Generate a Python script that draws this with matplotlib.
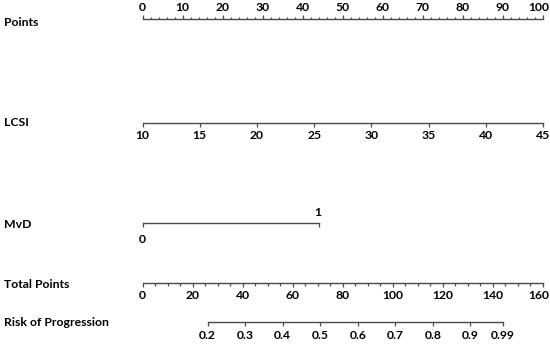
import matplotlib
matplotlib.use("Agg")
import matplotlib.pyplot as plt
from matplotlib.ticker import MultipleLocator

plt.rcParams['font.family'] = ['Lato', 'DejaVu Sans']
plt.rcParams['font.weight'] = 'bold'

# ---- data ----
row_labels = ["Points", "LCSI", "MvD", "Total Points", "Risk of Progression"]
points_ticks = [0, 10, 20, 30, 40, 50, 60, 70, 80, 90, 100]
lcsi_ticks = [10, 15, 20, 25, 30, 35, 40, 45]
mvd_levels = ["0", "1"]
mvd_points = [0, 44]
total_ticks = [0, 20, 40, 60, 80, 100, 120, 140, 160]
risk_labels = ["0.2", "0.3", "0.4", "0.5", "0.6", "0.7", "0.8", "0.9", "0.99"]
risk_total_points = [26, 41, 56, 71, 86, 101, 116, 131, 144]

W, H = 550, 346
fig = plt.figure(figsize=(W / 100, H / 100), dpi=100)

X0, X1 = 142.5, 543.0
LINE = '#4a4a4a'
FS = 8.7
TL = 3.0      # major tick length (pt)
TOP_PAD = 1.2
BOT_PAD = 2.5


def make_axis(y, lo, hi):
    ax = fig.add_axes([X0 / W, 1 - y / H, (X1 - X0) / W, 1e-5])
    ax.set_xlim(lo, hi)
    ax.set_yticks([])
    ax.patch.set_visible(False)
    for s in ax.spines.values():
        s.set_visible(False)
        s.set_color(LINE)
        s.set_linewidth(1.0)
    ax.tick_params(axis='x', which='both', colors=LINE, labelcolor='black',
                   labelsize=FS, width=0.9)
    return ax


def edge_label(ax, value, text, top):
    # last label kept inside the figure edge
    ax.annotate(text, xy=(value, 0), xycoords=('data', 'axes fraction'),
                xytext=(4.3, (TL + TOP_PAD) if top else -(TL + BOT_PAD)),
                textcoords='offset points',
                ha='right', va='bottom' if top else 'top',
                fontsize=FS, fontweight='bold')


# Points
ax = make_axis(19, 0, 100)
ax.spines['top'].set_visible(True)
ax.xaxis.set_ticks_position('top')
ax.set_xticks(points_ticks)
ax.set_xticklabels([str(t) for t in points_ticks[:-1]] + [""])
ax.xaxis.set_minor_locator(MultipleLocator(2))
ax.tick_params(axis='x', which='major', direction='out', length=TL, pad=TOP_PAD)
ax.tick_params(axis='x', which='minor', direction='out', length=1.6)
edge_label(ax, points_ticks[-1], str(points_ticks[-1]), True)

# LCSI
ax = make_axis(122.5, 10, 45)
ax.spines['bottom'].set_visible(True)
ax.set_xticks(lcsi_ticks)
ax.tick_params(axis='x', which='major', direction='out', length=TL, pad=BOT_PAD)

# MvD
ax = make_axis(222.5, 0, 100)
ax.spines['bottom'].set_visible(True)
ax.spines['bottom'].set_bounds(mvd_points[0], mvd_points[1])
ax.set_xticks(mvd_points)
ax.set_xticklabels([mvd_levels[0], ""])
ax.tick_params(axis='x', which='major', direction='out', length=TL, pad=BOT_PAD + 3)
ax.annotate(mvd_levels[1], xy=(mvd_points[1], 0), xycoords=('data', 'axes fraction'),
            xytext=(-1, 3), textcoords='offset points', ha='center', va='bottom',
            fontsize=FS, fontweight='bold')

# Total Points
ax = make_axis(282.7, 0, 160)
ax.spines['bottom'].set_visible(True)
ax.set_xticks(total_ticks)
ax.set_xticklabels([str(t) for t in total_ticks[:-1]] + [""])
ax.xaxis.set_minor_locator(MultipleLocator(5))
ax.tick_params(axis='x', which='major', direction='out', length=TL, pad=BOT_PAD)
ax.tick_params(axis='x', which='minor', direction='out', length=2.0)
edge_label(ax, total_ticks[-1], str(total_ticks[-1]), False)

# Risk of Progression
ax = make_axis(322.3, 0, 160)
ax.spines['bottom'].set_visible(True)
ax.spines['bottom'].set_bounds(risk_total_points[0], risk_total_points[-1])
ax.set_xticks(risk_total_points)
ax.set_xticklabels(risk_labels)
ax.tick_params(axis='x', which='major', direction='out', length=TL, pad=BOT_PAD)

# Row labels
label_y = [22, 122, 225, 285, 323]
for lab, y in zip(row_labels, label_y):
    fig.text(4 / W, 1 - y / H, lab, ha='left', va='center', fontsize=8.8,
             fontweight='bold')

fig.savefig("out.png", dpi=100)
